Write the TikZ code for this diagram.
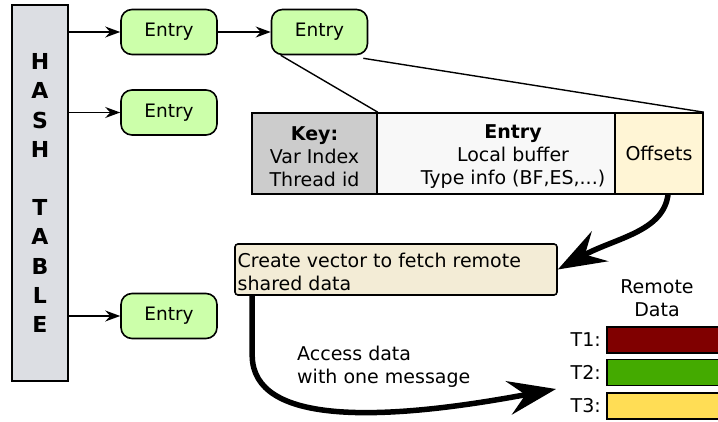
\documentclass[tikz,border=0pt]{standalone}
\usepackage{fontspec}
\setmainfont{DejaVu Sans}
\usetikzlibrary{arrows.meta}
\definecolor{hashfill}{HTML}{DCDEE3}
\definecolor{entryfill}{HTML}{CCFFAA}
\definecolor{keyfill}{HTML}{CCCCCC}
\definecolor{cellfill}{HTML}{F8F8F8}
\definecolor{offfill}{HTML}{FFF5D5}
\definecolor{createfill}{HTML}{F3ECD6}
\definecolor{tone}{HTML}{800000}
\definecolor{ttwo}{HTML}{44AA00}
\definecolor{tthree}{HTML}{FFDD55}
\tikzset{
  every node/.style={font=\fontsize{19}{23}\selectfont, inner sep=0pt},
  hashbox/.style={draw, line width=1.6pt, fill=hashfill, minimum width=56pt, minimum height=376pt,
    align=center, font=\bfseries\fontsize{22}{29.2}\selectfont},
  entrybox/.style={draw, line width=1.6pt, fill=entryfill, rounded corners=11pt,
    minimum width=96pt, minimum height=45pt, font=\fontsize{18.5}{23}\selectfont},
  cellbox/.style={draw, line width=1.6pt, minimum height=81pt},
  linkarrow/.style={line width=1.5pt, -{Stealth[length=15pt,width=11pt,inset=5pt]}},
  bigarrow/.style={line width=5.5pt, -{Stealth[length=48pt,width=34pt,inset=17pt]}},
  bar/.style={draw, line width=1.6pt, minimum width=116pt, minimum height=26pt, anchor=west},
  plain/.style={align=center}
}
\begin{document}
\begin{tikzpicture}[x=1pt,y=-1pt]
\useasboundingbox (0,0) rectangle (718,422);

% hash table column
\node[hashbox] (hash) at (40,193) {H\\A\\S\\H\\[29.2pt]T\\A\\B\\L\\E};

% entries
\node[entrybox] (e1) at (169,32) {Entry};
\node[entrybox] (e2) at (319.5,32) {Entry};
\node[entrybox] (e3) at (169,112.5) {Entry};
\node[entrybox] (e4) at (169,316) {Entry};

\draw[linkarrow] (hash.east |- e1) -- (e1.west);
\draw[linkarrow] (e1) -- (e2);
\draw[linkarrow] (hash.east |- e3) -- (e3.west);
\draw[linkarrow] (hash.east |- e4) -- (e4.west);

% expanded entry record
\node[cellbox, fill=keyfill, minimum width=125pt] (key) at (314.5,153.5) {};
\node[cellbox, fill=cellfill, minimum width=238pt] (cell) at (496,153.5) {};
\node[cellbox, fill=offfill, minimum width=88pt] (offs) at (659,153.5) {};
\node[plain] (keytext) at (314.5,156.5) {\textbf{Key:}\\Var Index\\Thread id};
\node[plain] (celltext) at (513,156.5) {\textbf{Entry}\\Local buffer\\Type info (BF,ES,...)};
\node[plain] (offtext) at (offs) {Offsets};

\draw[line width=1.4pt] ([xshift=10pt]e2.south west) -- (key.north east);
\draw[line width=1.4pt] ([xshift=-5pt,yshift=-3pt]e2.south east) -- (offs.north east);

% fetch vector
\node[draw, line width=1.6pt, fill=createfill, rounded corners=3pt,
      minimum width=322pt, minimum height=51pt] (create) at (396,269.5) {};
\node[align=left, anchor=west] (createtext) at (237.5,271.5) {Create vector to fetch remote\\shared data};

\draw[bigarrow] ([xshift=9pt]offs.south) .. controls (663,232) and (615,238) .. (create.east);

% remote data
\node[plain] (remote) at (657,298.5) {Remote\\Data};
\node[bar, fill=tone] (t1) at (606,340) {};
\node[bar, fill=ttwo] (t2) at (606,372.5) {};
\node[bar, fill=tthree] (t3) at (606,406) {};
\node[anchor=east] (l1) at (601,340) {T1:};
\node[anchor=east] (l2) at (601,372.5) {T2:};
\node[anchor=east] (l3) at (601,406) {T3:};

\node[align=left, anchor=west] (access) at (297,367) {Access data\\with one message};

\coordinate (hit) at (556,389);
\draw[bigarrow] ([xshift=18pt]create.south west) -- ++(0,60)
   .. controls (253,425) and (380,422) .. (hit);
\end{tikzpicture}
\end{document}
